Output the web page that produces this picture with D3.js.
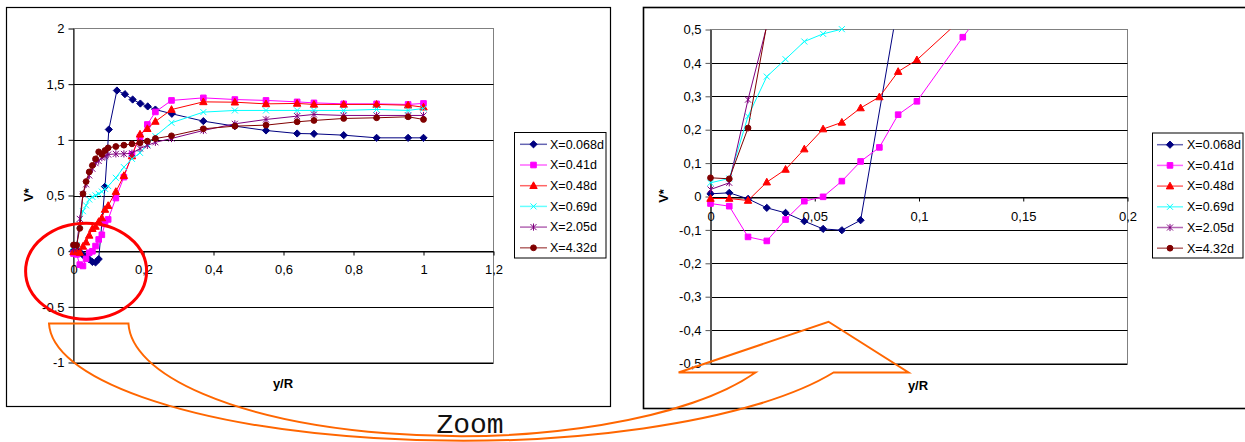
<!DOCTYPE html>
<html lang="en">
<head>
  <meta charset="UTF-8">
  <title>V* profiles near the wall</title>
  <script src="https://d3js.org/d3.v7.min.js"></script>
  <style>
    body { margin: 0; background: #fff; }
  </style>
</head>
<body>
  <svg width="1245" height="442"></svg>

  <script>
    // series names, colours and marker styles (Excel look)
    const labels = ["X=0.068d", "X=0.41d", "X=0.48d", "X=0.69d", "X=2.05d", "X=4.32d"];
    const colors = ["#000080", "#ff00ff", "#ff0000", "#00ffff", "#800080", "#800000"];
    const markers = ["diamond", "square", "triangle", "x", "star", "circle"];

    // y/R stations of the X=0.068d profile
    const xBlue = [0, 0.009, 0.018, 0.027, 0.036, 0.045, 0.054, 0.063, 0.072, 0.09, 0.101,
      0.124, 0.147, 0.169, 0.191, 0.212, 0.234, 0.281, 0.371, 0.461, 0.55, 0.639, 0.687,
      0.772, 0.866, 0.956, 1.0];
    const vBlue = [0.008, 0.011, -0.007, -0.034, -0.049, -0.074, -0.097, -0.101, -0.071, 0.58, 1.093,
      1.443, 1.41, 1.362, 1.326, 1.3, 1.272, 1.234, 1.168, 1.123, 1.084, 1.057, 1.054,
      1.042, 1.018, 1.018, 1.018];

    // y/R stations shared by the other profiles
    const xStations = [0, 0.009, 0.018, 0.027, 0.036, 0.045, 0.054, 0.063, 0.072, 0.081, 0.09, 0.099,
      0.121, 0.144, 0.167, 0.19, 0.211, 0.234, 0.28, 0.371, 0.461, 0.55, 0.639, 0.687,
      0.772, 0.866, 0.956, 1.0];
    const vMagenta = [-0.021, -0.029, -0.121, -0.133, -0.069, -0.014, -0.001, 0.046, 0.105, 0.147, 0.245, 0.285,
      0.477, 0.665, 0.868, 1.024, 1.138, 1.251, 1.354, 1.377, 1.362, 1.354, 1.341, 1.332,
      1.323, 1.323, 1.318, 1.327];
    const vRed = [-0.006, -0.006, -0.012, 0.043, 0.081, 0.142, 0.202, 0.222, 0.265, 0.298, 0.374, 0.409,
      0.535, 0.678, 0.855, 1.05, 1.1, 1.165, 1.272, 1.341, 1.338, 1.323, 1.327, 1.318,
      1.318, 1.318, 1.311, 1.293];
    const vCyan = [0.041, 0.054, 0.24, 0.359, 0.411, 0.464, 0.487, 0.501, 0.515, 0.535, 0.56, 0.585,
      0.659, 0.755, 0.829, 0.883, 0.96, 1.033, 1.153, 1.249, 1.264, 1.264, 1.264, 1.264,
      1.264, 1.273, 1.264, 1.282];
    const vPurple = [0.021, 0.041, 0.29, 0.51, 0.6, 0.68, 0.74, 0.79, 0.81, 0.84, 0.853, 0.868,
      0.874, 0.874, 0.88, 0.922, 0.95, 0.978, 1.012, 1.084, 1.144, 1.183, 1.213, 1.228,
      1.219, 1.219, 1.219, 1.219];
    const vBrown = [0.056, 0.053, 0.205, 0.515, 0.625, 0.712, 0.77, 0.829, 0.892, 0.869, 0.904, 0.928,
      0.94, 0.952, 0.964, 0.973, 0.988, 1.012, 1.036, 1.099, 1.123, 1.132, 1.162, 1.174,
      1.192, 1.198, 1.207, 1.183];

    // tick values
    const fullXTicks = [0, 0.2, 0.4, 0.6, 0.8, 1, 1.2];
    const fullYTicks = [-1, -0.5, 0, 0.5, 1, 1.5, 2];
    const zoomXTicks = [0, 0.05, 0.1, 0.15, 0.2];
    const zoomYTicks = [-0.5, -0.4, -0.3, -0.2, -0.1, 0, 0.1, 0.2, 0.3, 0.4, 0.5];

    const series = [
      d3.zip(xBlue, vBlue),
      d3.zip(xStations, vMagenta),
      d3.zip(xStations, vRed),
      d3.zip(xStations, vCyan),
      d3.zip(xStations, vPurple),
      d3.zip(xStations, vBrown)
    ];

    const sans = "Liberation Sans, Arial, sans-serif";
    const fmt = d => String(+d.toFixed(3)).replace(".", ",");

    const markerPaths = {
      diamond: "M0,-3.6L3.6,0L0,3.6L-3.6,0Z",
      square: "M-2.8,-2.8h5.6v5.6h-5.6Z",
      triangle: "M0,-3.9L3.7,2.8L-3.7,2.8Z",
      x: "M-3,-3L3,3M-3,3L3,-3",
      star: "M-3,-3L3,3M-3,3L3,-3M0,-3.6V3.6",
      circle: "M2.9,0A2.9,2.9 0 1,1 -2.9,0A2.9,2.9 0 1,1 2.9,0Z"
    };
    const strokeOnly = m => m === "x" || m === "star";

    function drawMarker(sel, i) {
      const m = markers[i];
      sel.attr("d", markerPaths[m])
        .attr("fill", strokeOnly(m) ? "none" : colors[i])
        .attr("stroke", colors[i])
        .attr("stroke-width", 1);
    }

    const svg = d3.select("svg");

    function drawChart(cfg) {
      const g = svg.append("g");
      const [l, t, r, b] = cfg.plot;

      const x = d3.scaleLinear().domain(cfg.xDomain).range([l, r]);
      const y = d3.scaleLinear().domain(cfg.yDomain).range([b, t]);

      // outer chart frame
      g.append("rect")
        .attr("x", cfg.frame[0]).attr("y", cfg.frame[1])
        .attr("width", cfg.frame[2] - cfg.frame[0]).attr("height", cfg.frame[3] - cfg.frame[1])
        .attr("fill", "#fff").attr("stroke", "#000").attr("stroke-width", cfg.frameWidth);

      // plot area box
      g.append("rect")
        .attr("x", l).attr("y", t).attr("width", r - l).attr("height", b - t)
        .attr("fill", "#fff").attr("stroke", "#808080").attr("stroke-width", 1);

      // horizontal gridlines
      g.selectAll(null)
        .data(cfg.yTicks.filter(v => v !== cfg.yDomain[1]))
        .enter().append("line")
        .attr("x1", l).attr("x2", r)
        .attr("y1", d => Math.round(y(d)) + 0.5).attr("y2", d => Math.round(y(d)) + 0.5)
        .attr("stroke", "#000").attr("stroke-width", 1);

      // y axis
      const ya = g.append("g")
        .attr("transform", `translate(${l},0)`)
        .call(d3.axisLeft(y).tickValues(cfg.yTicks).tickSize(5).tickSizeOuter(0)
          .tickPadding(4).tickFormat(fmt));
      ya.select(".domain").attr("stroke", cfg.axisColor).attr("stroke-width", cfg.axisWidth);
      ya.selectAll(".tick line").attr("stroke", cfg.axisColor);
      ya.selectAll("text").attr("font-size", 13).attr("fill", "#000").attr("font-family", sans);

      // x axis crossing at V* = 0
      const xa = g.append("g")
        .attr("transform", `translate(0,${Math.round(y(0)) + 0.5})`)
        .call(d3.axisBottom(x).tickValues(cfg.xTicks).tickSize(4).tickSizeOuter(0)
          .tickPadding(cfg.xPad).tickFormat(fmt));
      xa.select(".domain").attr("stroke", "#000");
      xa.selectAll(".tick line").attr("stroke", "#000");
      xa.selectAll("text").attr("font-size", 13).attr("fill", "#000").attr("font-family", sans);

      // axis titles
      g.append("text")
        .attr("transform", `translate(${cfg.vTitle[0]},${cfg.vTitle[1]}) rotate(-90)`)
        .attr("text-anchor", "middle").attr("dy", "0.35em")
        .attr("font-family", sans)
        .attr("font-size", 13).attr("font-weight", "bold").text("V*");
      g.append("text")
        .attr("x", cfg.xTitle[0]).attr("y", cfg.xTitle[1])
        .attr("text-anchor", "middle")
        .attr("font-family", sans)
        .attr("font-size", 13).attr("font-weight", "bold").text("y/R");

      // series
      const clipId = "clip" + cfg.id;
      g.append("clipPath").attr("id", clipId)
        .append("rect").attr("x", l).attr("y", t).attr("width", r - l).attr("height", b - t);

      const line = d3.line().x(d => x(d[0])).y(d => y(d[1]));
      const inside = d => d[0] >= cfg.xDomain[0] && d[0] <= cfg.xDomain[1] + 1e-9 &&
        d[1] >= cfg.yDomain[0] && d[1] <= cfg.yDomain[1] + 0.005;

      series.forEach((pts, i) => {
        g.append("path")
          .attr("d", line(pts))
          .attr("fill", "none")
          .attr("stroke", colors[i])
          .attr("stroke-width", 1)
          .attr("clip-path", `url(#${clipId})`);
        g.selectAll(null)
          .data(pts.filter(inside))
          .enter().append("path")
          .attr("transform", d => `translate(${x(d[0])},${y(d[1])})`)
          .call(drawMarker, i);
      });

      // legend
      const lg = cfg.legend;
      g.append("rect")
        .attr("x", lg.x).attr("y", lg.y).attr("width", lg.w).attr("height", lg.h)
        .attr("fill", "#fff").attr("stroke", "#000").attr("stroke-width", 1);
      labels.forEach((name, i) => {
        const cy = lg.row0 + i * lg.step;
        g.append("line")
          .attr("x1", lg.line0).attr("x2", lg.line1).attr("y1", cy).attr("y2", cy)
          .attr("stroke", colors[i]).attr("stroke-width", 1.5).attr("stroke-opacity", 0.6);
        g.append("path")
          .attr("transform", `translate(${(lg.line0 + lg.line1) / 2},${cy})`)
          .call(drawMarker, i);
        g.append("text")
          .attr("x", lg.text).attr("y", cy).attr("dy", "0.35em")
          .attr("font-family", sans)
          .attr("font-size", 12.5).text(name);
      });

      return { x, y, g };
    }

    const full = drawChart({
      id: "full",
      frame: [6.5, 7.5, 610.5, 406.5], frameWidth: 1.2,
      plot: [73.5, 28.5, 493.5, 362.5],
      xDomain: [0, 1.2], yDomain: [-1, 2],
      xTicks: fullXTicks, yTicks: fullYTicks,
      axisColor: "#000", axisWidth: 1, xPad: 9,
      vTitle: [28, 195], xTitle: [283, 388],
      legend: { x: 514.5, y: 132.5, w: 91.5, h: 125.5, row0: 144.3, step: 20.7, line0: 520, line1: 547, text: 550 }
    });

    const zoom = drawChart({
      id: "zoom",
      frame: [643.5, 7.5, 1252, 408.5], frameWidth: 1.6,
      plot: [710.5, 29.5, 1127.5, 363.5],
      xDomain: [0, 0.2], yDomain: [-0.5, 0.5],
      xTicks: zoomXTicks, yTicks: zoomYTicks,
      axisColor: "#555", axisWidth: 2, xPad: 10,
      vTitle: [663, 196], xTitle: [918, 390],
      legend: { x: 1152.5, y: 133, w: 90.5, h: 125, row0: 144.7, step: 20.7, line0: 1157, line1: 1183, text: 1187 }
    });

    // red ellipse around the near-wall region of the full chart
    full.g.append("ellipse")
      .attr("cx", full.x(0.036)).attr("cy", full.y(-0.18))
      .attr("rx", 60.5).attr("ry", 48)
      .attr("fill", "none").attr("stroke", "#ff0000").attr("stroke-width", 3);

    // curved orange "zoom" arrow from the full chart to the zoomed one
    const aL = full.x(-0.07), aR = full.x(0.157), aTop = full.y(-0.65);
    const tipX = zoom.x(0.0566), tipY = zoom.y(-0.375), baseY = zoom.y(-0.527);
    const innerEnd = zoom.x(0.0216), outerEnd = zoom.x(0.059);
    const headL = zoom.x(-0.0153), headR = zoom.x(0.095);

    const d = `M${aL},${aTop}L${aR},${aTop}` +
      `A331,115 0 0 0 ${innerEnd},${baseY}` +
      `L${headL},${baseY}L${tipX},${tipY}L${headR},${baseY}L${outerEnd},${baseY}` +
      `A412,119 0 0 1 ${aL},${aTop}Z`;

    svg.append("path")
      .attr("d", d)
      .attr("fill", "none")
      .attr("stroke", "#ff6600")
      .attr("stroke-width", 2)
      .attr("stroke-linejoin", "miter");

    svg.append("text")
      .attr("x", 470).attr("y", 433)
      .attr("text-anchor", "middle")
      .attr("font-family", "Liberation Mono, Courier New, monospace")
      .attr("font-size", 28)
      .attr("fill", "#111")
      .text("Zoom");
  </script>
</body>
</html>
